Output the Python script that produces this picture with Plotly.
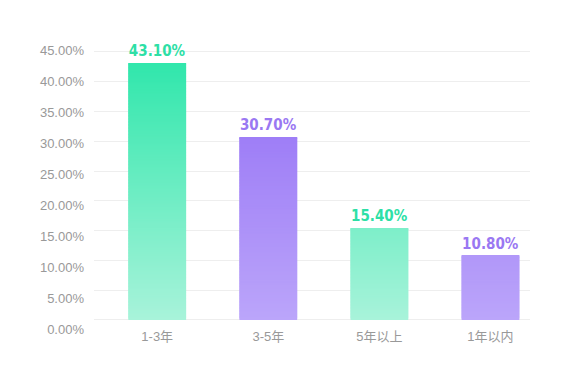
import plotly.graph_objects as go

# ---- data ----
categories = ["1-3年", "3-5年", "5年以上", "1年以内"]
values = [43.1, 30.7, 15.4, 10.8]
value_labels = ["43.10%", "30.70%", "15.40%", "10.80%"]
y_ticks = [0, 5, 10, 15, 20, 25, 30, 35, 40, 45]
y_tick_labels = ["0.00%", "5.00%", "10.00%", "15.00%", "20.00%", "25.00%",
                 "30.00%", "35.00%", "40.00%", "45.00%"]
series_family = ["green", "purple", "green", "purple"]

# ---- styling ----
GRAD = {
    "green": ((168, 243, 218), (44, 230, 170)),
    "purple": ((187, 165, 250), (145, 108, 245)),
}
LABEL_COLORS = {"green": "#2EDFA6", "purple": "#9A78F2"}
GRAD_TOP = 45.0
STEP = 0.25


def grad_color(fam, v):
    lo, hi = GRAD[fam]
    t = max(0.0, min(1.0, v / GRAD_TOP))
    c = [round(lo[i] + (hi[i] - lo[i]) * t) for i in range(3)]
    return f"rgb({c[0]},{c[1]},{c[2]})"


# build gradient slices for each bar
sx, sbase, sh, scol = [], [], [], []
for cat, val, fam in zip(categories, values, series_family):
    b = 0.0
    while b < val - 1e-9:
        h = min(STEP * 2, val - b)
        sx.append(cat)
        sbase.append(b)
        sh.append(h)
        scol.append(grad_color(fam, b + STEP / 2))
        b += STEP

fig = go.Figure()
fig.add_trace(go.Bar(
    x=sx, y=sh, base=sbase, width=0.52,
    marker=dict(color=scol, line=dict(width=0)),
    hoverinfo="skip", showlegend=False,
))
fig.add_trace(go.Bar(
    x=categories, y=values, width=0.52,
    marker=dict(color="rgba(0,0,0,0)", line=dict(width=0)),
    text=value_labels, textposition="outside", cliponaxis=False,
    textfont=dict(family="DejaVu Sans Condensed, Liberation Sans Narrow, Roboto, sans-serif",
                  size=15, weight="bold",
                  color=[LABEL_COLORS[f] for f in series_family]),
    hoverinfo="skip", showlegend=False,
))
# helper trace to display the y tick labels axis
fig.add_trace(go.Scatter(
    x=[categories[0]], y=[0], yaxis="y2", mode="markers",
    marker=dict(opacity=0), hoverinfo="skip", showlegend=False,
))

fig.update_layout(
    width=564, height=373,
    margin=dict(l=86, r=42, t=32, b=41),
    paper_bgcolor="white", plot_bgcolor="rgba(0,0,0,0)",
    barmode="overlay", showlegend=False,
    font=dict(family="Liberation Sans, Noto Sans CJK SC, sans-serif", color="#9A9A9A"),
    xaxis=dict(
        type="category", categoryorder="array", categoryarray=categories,
        range=[-0.569, 3.356], anchor="y",
        showgrid=False, zeroline=False, showline=False, ticks="",
        tickfont=dict(size=13, color="#999999",
                      family="Liberation Sans, Noto Sans CJK SC, sans-serif"),
        ticklabelstandoff=7,
    ),
    yaxis=dict(
        domain=[0.0667, 1], range=[0, 47.01],
        tickvals=y_ticks, showticklabels=False,
        showgrid=True, gridcolor="#EEEEEE", gridwidth=1,
        zeroline=True, zerolinecolor="#EEEEEE", zerolinewidth=1,
        showline=False, ticks="",
    ),
    yaxis2=dict(
        domain=[0, 1], anchor="free", position=0,
        range=[-1.774, 46.61],
        tickvals=y_ticks, ticktext=y_tick_labels,
        showgrid=False, zeroline=False, showline=False, ticks="",
        tickfont=dict(size=13, color="#999999",
                      family="Liberation Sans, Noto Sans CJK SC, sans-serif"),
        ticklabelstandoff=10,
    ),
)

fig.write_html("out.html")
